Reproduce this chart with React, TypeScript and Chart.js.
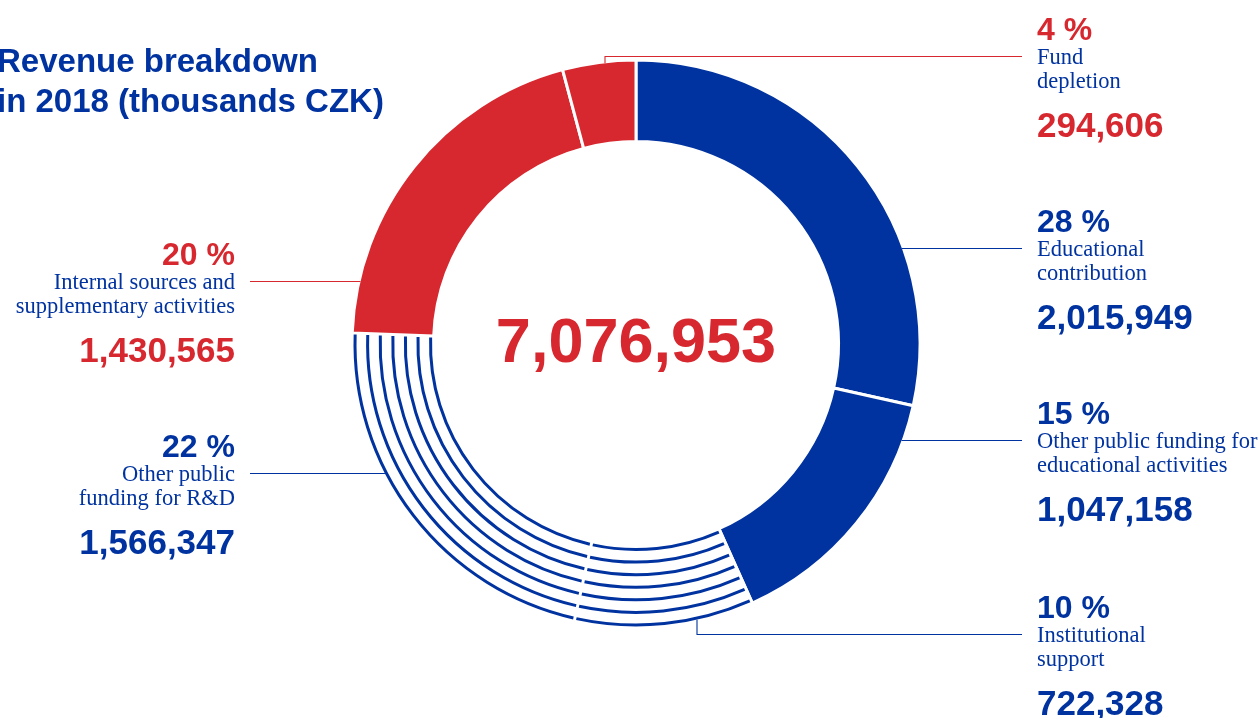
import React, { useEffect, useRef } from "react";
import { Chart, registerables } from "chart.js";

Chart.register(...registerables);

// ---------- data ----------
const categories = [
  "Educational contribution",
  "Other public funding for educational activities",
  "Institutional support",
  "Other public funding for R&D",
  "Internal sources and supplementary activities",
  "Fund depletion",
];
const values = [2015949, 1047158, 722328, 1566347, 1430565, 294606];
const percentLabels = ["28 %", "15 %", "10 %", "22 %", "20 %", "4 %"];
const nameLines = [
  ["Educational", "contribution"],
  ["Other public funding for", "educational activities"],
  ["Institutional", "support"],
  ["Other public", "funding for R&D"],
  ["Internal sources and", "supplementary activities"],
  ["Fund", "depletion"],
];
const valueLabels = ["2,015,949", "1,047,158", "722,328", "1,566,347", "1,430,565", "294,606"];
const totalLabel = "7,076,953";
const titleLines = ["Revenue breakdown", "in 2018 (thousands CZK)"];

// ---------- styles ----------
const BLUE = "#0033a0";
const RED = "#d7282f";
const segmentFill = [BLUE, BLUE, "rgba(0,0,0,0)", "rgba(0,0,0,0)", RED, RED];
const striped = [false, false, true, true, false, false];
const accent = [BLUE, BLUE, BLUE, BLUE, RED, RED];
const labelSide = ["right", "right", "right", "left", "left", "right"];
const labelBaseline = [232, 424, 618, 457, 265, 40];
const leaderVerticalX = [null, null, 697, null, null, 605];

const RIGHT_X = 1037;
const RIGHT_LINE_END = 1022;
const LEFT_X = 235;
const LEFT_LINE_START = 250;
const SANS = '"Liberation Sans", Arial, sans-serif';
const SERIF = '"Liberation Serif", "Times New Roman", serif';

const stripePlugin = {
  id: "stripes",
  afterDatasetsDraw(chart: any) {
    const meta = chart.getDatasetMeta(0);
    const ctx = chart.ctx;
    meta.data.forEach((arc: any, i: number) => {
      if (!striped[i]) return;
      const { x, y, startAngle, endAngle, innerRadius, outerRadius } = arc.getProps(
        ["x", "y", "startAngle", "endAngle", "innerRadius", "outerRadius"],
        true
      );
      const rIn = innerRadius + 3;
      const rOut = outerRadius - 3;
      ctx.save();
      ctx.strokeStyle = BLUE;
      ctx.lineWidth = 3;
      ctx.lineCap = "butt";
      const n = 7;
      for (let k = 0; k < n; k++) {
        const r = rIn + ((rOut - rIn) * k) / (n - 1);
        const g = 1.5 / r;
        ctx.beginPath();
        ctx.arc(x, y, r, startAngle + g, endAngle - g);
        ctx.stroke();
      }
      ctx.restore();
    });
  },
};

const labelPlugin = {
  id: "labels",
  afterDraw(chart: any) {
    const ctx = chart.ctx;
    const arc0 = chart.getDatasetMeta(0).data[0];
    const { x: cx, y: cy, outerRadius } = arc0.getProps(["x", "y", "outerRadius"], true);
    const R = outerRadius - 1.5;
    ctx.save();

    // title
    ctx.fillStyle = BLUE;
    ctx.font = `bold 33px ${SANS}`;
    ctx.textAlign = "left";
    ctx.textBaseline = "alphabetic";
    titleLines.forEach((t, i) => ctx.fillText(t, -3, 72 + i * 40));

    // total in centre
    ctx.fillStyle = RED;
    ctx.font = `bold 63px ${SANS}`;
    ctx.textAlign = "center";
    ctx.fillText(totalLabel, cx, 362);

    categories.forEach((_, i) => {
      const P = labelBaseline[i];
      const right = labelSide[i] === "right";
      const tx = right ? RIGHT_X : LEFT_X;
      ctx.textAlign = right ? "left" : "right";
      ctx.fillStyle = accent[i];
      ctx.font = `bold 32px ${SANS}`;
      ctx.fillText(percentLabels[i], tx, P);
      ctx.fillStyle = BLUE;
      ctx.font = `22.5px ${SERIF}`;
      nameLines[i].forEach((l, j) => ctx.fillText(l, tx, P + 24 + j * 24));
      ctx.fillStyle = accent[i];
      ctx.font = `bold 35px ${SANS}`;
      ctx.fillText(valueLabels[i], tx, P + 97);

      // leader line
      const ly = P + 16.5;
      ctx.strokeStyle = accent[i];
      ctx.lineWidth = 1.1;
      ctx.beginPath();
      const vx = leaderVerticalX[i];
      if (vx !== null) {
        const dx = (vx as number) - cx;
        const h = Math.sqrt(Math.max(R * R - dx * dx, 0));
        const yEdge = ly < cy ? cy - h : cy + h;
        ctx.moveTo(vx as number, yEdge);
        ctx.lineTo(vx as number, ly);
        ctx.lineTo(RIGHT_LINE_END, ly);
      } else {
        const dy = ly - cy;
        const w = Math.sqrt(Math.max(R * R - dy * dy, 0));
        if (right) {
          ctx.moveTo(cx + w, ly);
          ctx.lineTo(RIGHT_LINE_END, ly);
        } else {
          ctx.moveTo(LEFT_LINE_START, ly);
          ctx.lineTo(cx - w, ly);
        }
      }
      ctx.stroke();
    });
    ctx.restore();
  },
};

export default function App() {
  const ref = useRef<HTMLCanvasElement | null>(null);
  useEffect(() => {
    if (!ref.current) return;
    const chart = new Chart(ref.current, {
      type: "doughnut",
      data: {
        labels: categories,
        datasets: [
          {
            data: values,
            backgroundColor: segmentFill,
            borderColor: "#ffffff",
            borderWidth: 3,
            hoverOffset: 0,
          },
        ],
      },
      options: {
        responsive: false,
        animation: false,
        radius: 284,
        cutout: "71.3%",
        layout: { padding: { left: 14, right: 0, top: 0, bottom: 30 } },
        plugins: {
          legend: { display: false },
          tooltip: { enabled: false },
          title: { display: false },
        },
        events: [],
      } as any,
      plugins: [stripePlugin, labelPlugin],
    });
    return () => chart.destroy();
  }, []);
  return (
    <div style={{ position: "absolute", left: 0, top: 0, width: 1258, height: 718, background: "#fff" }}>
      <canvas ref={ref} width={1258} height={718} style={{ width: 1258, height: 718, display: "block" }} />
    </div>
  );
}
